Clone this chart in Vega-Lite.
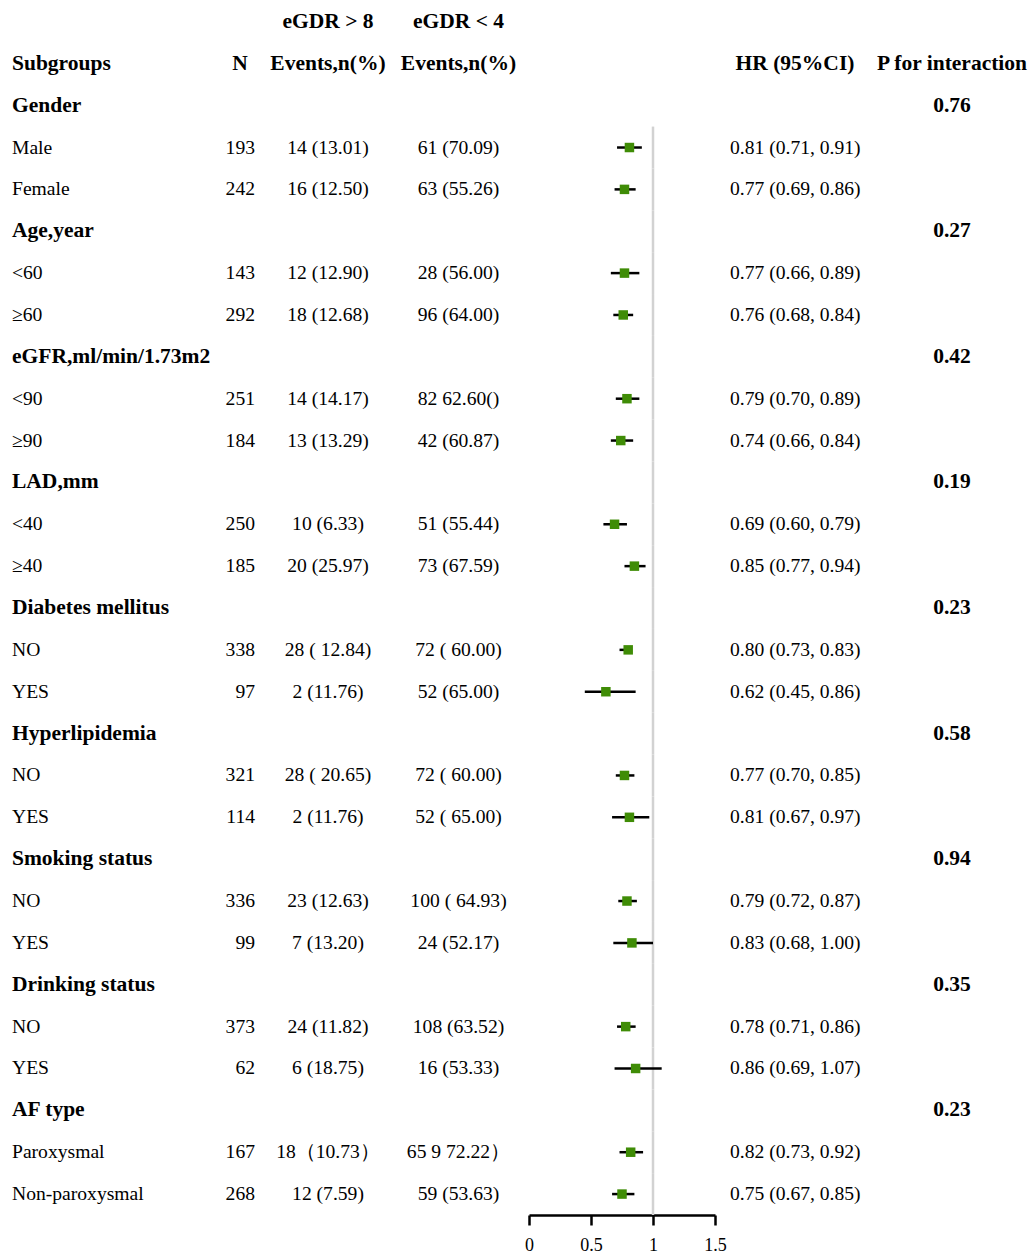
{
  "$schema": "https://vega.github.io/schema/vega-lite/v6.json",
  "background": "white",
  "padding": {"left": 12, "top": 1, "right": 0, "bottom": 0},
  "bounds": "flush",
  "spacing": 0,
  "config": {
    "view": {"stroke": null},
    "text": {"font": "Liberation Serif", "baseline": "middle", "color": "black"}
  },
  "data": {
    "values": [
      {"key": "r00", "kind": "head", "ev8": "eGDR > 8", "ev4": "eGDR < 4"},
      {"key": "r01", "kind": "head", "label": "Subgroups", "n": "N", "ev8": "Events,n(%)", "ev4": "Events,n(%)", "hrh": "HR (95%CI)", "p": "P for interaction"},
      {"key": "r02", "kind": "group", "label": "Gender", "p": "0.76"},
      {"key": "r03", "kind": "sub", "label": "Male", "n": 193, "ev8": "14 (13.01)", "ev4": "61 (70.09)", "hr": 0.81, "lo": 0.71, "hi": 0.91},
      {"key": "r04", "kind": "sub", "label": "Female", "n": 242, "ev8": "16 (12.50)", "ev4": "63 (55.26)", "hr": 0.77, "lo": 0.69, "hi": 0.86},
      {"key": "r05", "kind": "group", "label": "Age,year", "p": "0.27"},
      {"key": "r06", "kind": "sub", "label": "<60", "n": 143, "ev8": "12 (12.90)", "ev4": "28 (56.00)", "hr": 0.77, "lo": 0.66, "hi": 0.89},
      {"key": "r07", "kind": "sub", "label": "≥60", "n": 292, "ev8": "18 (12.68)", "ev4": "96 (64.00)", "hr": 0.76, "lo": 0.68, "hi": 0.84},
      {"key": "r08", "kind": "group", "label": "eGFR,ml/min/1.73m2", "p": "0.42"},
      {"key": "r09", "kind": "sub", "label": "<90", "n": 251, "ev8": "14 (14.17)", "ev4": "82 62.60()", "hr": 0.79, "lo": 0.70, "hi": 0.89},
      {"key": "r10", "kind": "sub", "label": "≥90", "n": 184, "ev8": "13 (13.29)", "ev4": "42 (60.87)", "hr": 0.74, "lo": 0.66, "hi": 0.84},
      {"key": "r11", "kind": "group", "label": "LAD,mm", "p": "0.19"},
      {"key": "r12", "kind": "sub", "label": "<40", "n": 250, "ev8": "10 (6.33)", "ev4": "51 (55.44)", "hr": 0.69, "lo": 0.60, "hi": 0.79},
      {"key": "r13", "kind": "sub", "label": "≥40", "n": 185, "ev8": "20 (25.97)", "ev4": "73 (67.59)", "hr": 0.85, "lo": 0.77, "hi": 0.94},
      {"key": "r14", "kind": "group", "label": "Diabetes mellitus", "p": "0.23"},
      {"key": "r15", "kind": "sub", "label": "NO", "n": 338, "ev8": "28 ( 12.84)", "ev4": "72 ( 60.00)", "hr": 0.80, "lo": 0.73, "hi": 0.83},
      {"key": "r16", "kind": "sub", "label": "YES", "n": 97, "ev8": "2 (11.76)", "ev4": "52 (65.00)", "hr": 0.62, "lo": 0.45, "hi": 0.86},
      {"key": "r17", "kind": "group", "label": "Hyperlipidemia", "p": "0.58"},
      {"key": "r18", "kind": "sub", "label": "NO", "n": 321, "ev8": "28 ( 20.65)", "ev4": "72 ( 60.00)", "hr": 0.77, "lo": 0.70, "hi": 0.85},
      {"key": "r19", "kind": "sub", "label": "YES", "n": 114, "ev8": "2 (11.76)", "ev4": "52 ( 65.00)", "hr": 0.81, "lo": 0.67, "hi": 0.97},
      {"key": "r20", "kind": "group", "label": "Smoking status", "p": "0.94"},
      {"key": "r21", "kind": "sub", "label": "NO", "n": 336, "ev8": "23 (12.63)", "ev4": "100 ( 64.93)", "hr": 0.79, "lo": 0.72, "hi": 0.87},
      {"key": "r22", "kind": "sub", "label": "YES", "n": 99, "ev8": "7 (13.20)", "ev4": "24 (52.17)", "hr": 0.83, "lo": 0.68, "hi": 1.00},
      {"key": "r23", "kind": "group", "label": "Drinking  status", "p": "0.35"},
      {"key": "r24", "kind": "sub", "label": "NO", "n": 373, "ev8": "24 (11.82)", "ev4": "108 (63.52)", "hr": 0.78, "lo": 0.71, "hi": 0.86},
      {"key": "r25", "kind": "sub", "label": "YES", "n": 62, "ev8": "6 (18.75)", "ev4": "16 (53.33)", "hr": 0.86, "lo": 0.69, "hi": 1.07},
      {"key": "r26", "kind": "group", "label": "AF type", "p": "0.23"},
      {"key": "r27", "kind": "sub", "label": "Paroxysmal", "n": 167, "ev8": "18（10.73）", "ev4": "65 9 72.22）", "hr": 0.82, "lo": 0.73, "hi": 0.92},
      {"key": "r28", "kind": "sub", "label": "Non-paroxysmal", "n": 268, "ev8": "12 (7.59)", "ev4": "59 (53.63)", "hr": 0.75, "lo": 0.67, "hi": 0.85}
    ]
  },
  "hconcat": [
    {
      "width": 200,
      "height": 1214,
      "encoding": {
        "y": {"field": "key", "type": "nominal", "sort": "ascending", "axis": null,
              "scale": {"type": "band", "paddingInner": 0, "paddingOuter": 0}}
      },
      "layer": [
        {
          "mark": {"type": "text", "align": "left", "fontWeight": "bold", "fontSize": 21.5},
          "encoding": {
            "x": {"value": 0},
            "text": {"condition": {"test": "isValid(datum.label) && datum.kind != 'sub'", "field": "label", "type": "nominal"}, "value": ""}
          }
        },
        {
          "mark": {"type": "text", "align": "left", "fontSize": 19.6},
          "encoding": {
            "x": {"value": 0},
            "text": {"condition": {"test": "datum.kind == 'sub'", "field": "label", "type": "nominal"}, "value": ""}
          }
        }
      ]
    },
    {
      "width": 56,
      "height": 1214,
      "encoding": {
        "y": {"field": "key", "type": "nominal", "sort": "ascending", "axis": null,
              "scale": {"type": "band", "paddingInner": 0, "paddingOuter": 0}}
      },
      "layer": [
        {
          "mark": {"type": "text", "align": "center", "fontWeight": "bold", "fontSize": 21.5},
          "encoding": {
            "text": {"condition": {"test": "isValid(datum.n) && datum.kind == 'head'", "field": "n", "type": "nominal"}, "value": ""}
          }
        },
        {
          "mark": {"type": "text", "align": "right", "dx": 15, "fontSize": 19.6},
          "encoding": {
            "text": {"condition": {"test": "datum.kind == 'sub'", "field": "n", "type": "nominal"}, "value": ""}
          }
        }
      ]
    },
    {
      "width": 120,
      "height": 1214,
      "encoding": {
        "y": {"field": "key", "type": "nominal", "sort": "ascending", "axis": null,
              "scale": {"type": "band", "paddingInner": 0, "paddingOuter": 0}}
      },
      "layer": [
        {
          "mark": {"type": "text", "align": "center", "fontWeight": "bold", "fontSize": 21.5},
          "encoding": {
            "text": {"condition": {"test": "isValid(datum.ev8) && datum.kind == 'head'", "field": "ev8", "type": "nominal"}, "value": ""}
          }
        },
        {
          "mark": {"type": "text", "align": "center", "fontSize": 19.6},
          "encoding": {
            "text": {"condition": {"test": "datum.kind == 'sub'", "field": "ev8", "type": "nominal"}, "value": ""}
          }
        }
      ]
    },
    {
      "width": 141,
      "height": 1214,
      "encoding": {
        "y": {"field": "key", "type": "nominal", "sort": "ascending", "axis": null,
              "scale": {"type": "band", "paddingInner": 0, "paddingOuter": 0}}
      },
      "layer": [
        {
          "mark": {"type": "text", "align": "center", "fontWeight": "bold", "fontSize": 21.5},
          "encoding": {
            "text": {"condition": {"test": "isValid(datum.ev4) && datum.kind == 'head'", "field": "ev4", "type": "nominal"}, "value": ""}
          }
        },
        {
          "mark": {"type": "text", "align": "center", "fontSize": 19.6},
          "encoding": {
            "text": {"condition": {"test": "datum.kind == 'sub'", "field": "ev4", "type": "nominal"}, "value": ""}
          }
        }
      ]
    },
    {
      "width": 186,
      "height": 1214,
      "encoding": {
        "y": {"field": "key", "type": "nominal", "sort": "ascending", "axis": null,
              "scale": {"type": "band", "paddingInner": 0, "paddingOuter": 0}}
      },
      "layer": [
        {
          "mark": {"type": "rect", "color": "#d2d2d2"},
          "encoding": {
            "x": {"datum": 0.99, "type": "quantitative",
                  "scale": {"domain": [0, 1.5], "nice": false, "zero": false},
                  "axis": {"values": [0, 0.5, 1, 1.5], "format": "~g", "title": null, "grid": false,
                           "domainColor": "black", "domainWidth": 2.5, "tickColor": "black", "tickWidth": 2.5,
                           "tickSize": 10, "labelFont": "Liberation Serif", "labelFontSize": 18,
                           "labelColor": "black", "labelPadding": 11, "labelFlush": false}},
            "x2": {"datum": 1.01},
            "opacity": {"condition": {"test": "datum.kind == 'head' || datum.key == 'r02'", "value": 0}, "value": 1}
          }
        },
        {
          "mark": {"type": "rule", "color": "black", "strokeWidth": 2.5},
          "encoding": {
            "x": {"field": "lo", "type": "quantitative"},
            "x2": {"field": "hi"}
          }
        },
        {
          "mark": {"type": "square", "filled": true, "color": "#3f8c06", "opacity": 1, "size": 90},
          "encoding": {
            "x": {"field": "hr", "type": "quantitative"}
          }
        }
      ]
    },
    {
      "width": 160,
      "height": 1214,
      "transform": [
        {"calculate": "isValid(datum.hr) ? format(datum.hr, '.2f') + ' (' + format(datum.lo, '.2f') + ', ' + format(datum.hi, '.2f') + ')' : ''", "as": "hrtxt"}
      ],
      "encoding": {
        "y": {"field": "key", "type": "nominal", "sort": "ascending", "axis": null,
              "scale": {"type": "band", "paddingInner": 0, "paddingOuter": 0}}
      },
      "layer": [
        {
          "mark": {"type": "text", "align": "center", "fontWeight": "bold", "fontSize": 21.5},
          "encoding": {
            "text": {"condition": {"test": "isValid(datum.hrh)", "field": "hrh", "type": "nominal"}, "value": ""}
          }
        },
        {
          "mark": {"type": "text", "align": "left", "dx": 15, "fontSize": 19.6},
          "encoding": {
            "x": {"value": 0},
            "text": {"field": "hrtxt", "type": "nominal"}
          }
        }
      ]
    },
    {
      "width": 154,
      "height": 1214,
      "encoding": {
        "y": {"field": "key", "type": "nominal", "sort": "ascending", "axis": null,
              "scale": {"type": "band", "paddingInner": 0, "paddingOuter": 0}}
      },
      "layer": [
        {
          "mark": {"type": "text", "align": "center", "fontWeight": "bold", "fontSize": 21.5},
          "encoding": {
            "text": {"condition": {"test": "isValid(datum.p)", "field": "p", "type": "nominal"}, "value": ""}
          }
        }
      ]
    }
  ]
}
